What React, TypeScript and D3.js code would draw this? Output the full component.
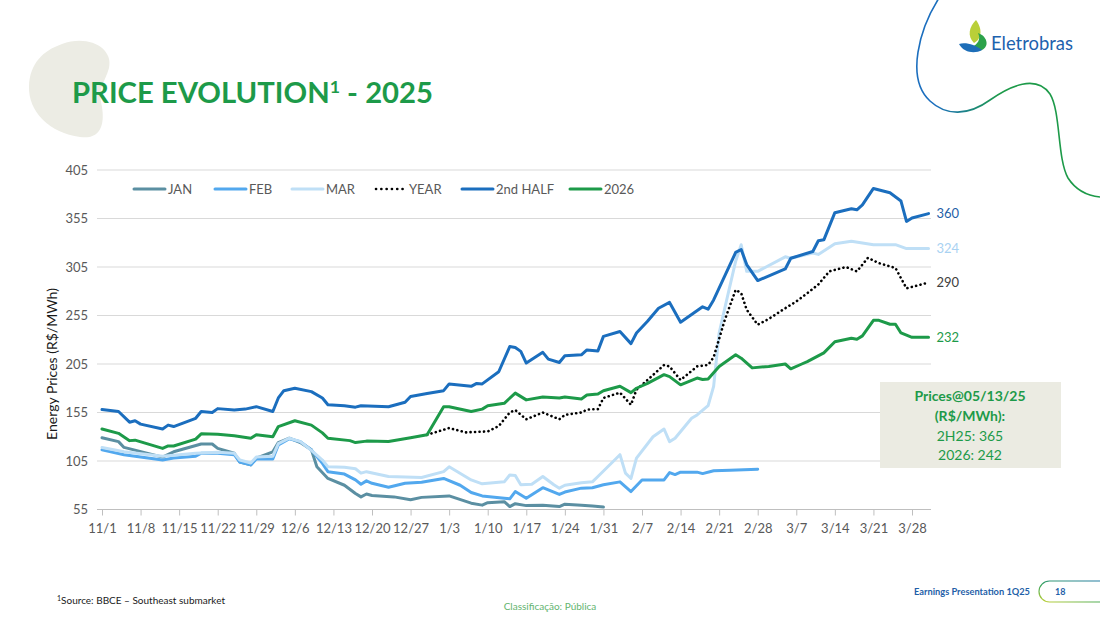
import React, { useRef, useEffect } from "react";
import * as d3 from "d3";

type Point = [string, number];

const yTickValues = [55, 105, 155, 205, 255, 305, 355, 405];
const xTickLabels = [
  "11/1", "11/8", "11/15", "11/22", "11/29", "12/6", "12/13", "12/20", "12/27", "1/3", "1/10",
  "1/17", "1/24", "1/31", "2/7", "2/14", "2/21", "2/28", "3/7", "3/14", "3/21", "3/28",
];

// values (R$/MWh)
const janPrices: Point[] = [
  ["11/1", 129], ["11/4", 125], ["11/5", 119], ["11/12", 109], ["11/14", 114.5], ["11/19", 122.5],
  ["11/21", 122.5], ["11/22", 118], ["11/25", 113], ["11/26", 104], ["11/28", 101], ["11/29", 108],
  ["12/2", 114.5], ["12/3", 124], ["12/5", 128.5], ["12/7", 124], ["12/9", 116.5], ["12/10", 99],
  ["12/12", 87], ["12/15", 80], ["12/17", 71.5], ["12/18", 68], ["12/19", 71], ["12/20", 69.5],
  ["12/24", 68], ["12/27", 65], ["12/29", 67.5], ["1/3", 69], ["1/7", 61.5], ["1/9", 59.5],
  ["1/10", 62], ["1/13", 63], ["1/14", 58], ["1/15", 61], ["1/17", 59], ["1/20", 59.5],
  ["1/23", 58], ["1/24", 60.5], ["1/27", 59.5], ["1/29", 58.5], ["1/31", 57.5],
];

const febPrices: Point[] = [
  ["11/1", 116.5], ["11/5", 111.5], ["11/12", 106], ["11/14", 108], ["11/18", 110], ["11/19", 113],
  ["11/22", 113], ["11/25", 111.5], ["11/26", 104], ["11/28", 101], ["11/29", 107], ["12/2", 107],
  ["12/3", 121.5], ["12/5", 128], ["12/7", 125], ["12/9", 116.5], ["12/11", 102.5], ["12/12", 94],
  ["12/15", 91.5], ["12/17", 85.5], ["12/18", 81], ["12/19", 84.5], ["12/20", 82], ["12/23", 78],
  ["12/26", 82], ["12/29", 83], ["1/2", 87], ["1/5", 80], ["1/7", 72.5], ["1/9", 69],
  ["1/13", 66.5], ["1/14", 66], ["1/15", 73.5], ["1/17", 66.5], ["1/20", 77.5], ["1/23", 70.5],
  ["1/24", 73], ["1/27", 77], ["1/29", 77.5], ["1/31", 80.5], ["2/3", 83.5], ["2/5", 73.5],
  ["2/7", 85.5], ["2/11", 85.5], ["2/12", 93], ["2/13", 91], ["2/14", 93.5], ["2/17", 93.5],
  ["2/18", 92], ["2/20", 95], ["2/23", 95.5], ["2/28", 96.5],
];

const marPrices: Point[] = [
  ["11/1", 119], ["11/5", 114.5], ["11/12", 110], ["11/18", 113], ["11/22", 114], ["11/25", 113],
  ["11/26", 106], ["11/28", 103], ["11/29", 109], ["12/2", 110], ["12/3", 123], ["12/5", 128.5],
  ["12/7", 125], ["12/9", 116], ["12/11", 106], ["12/12", 99], ["12/15", 98.5], ["12/17", 97],
  ["12/18", 92.5], ["12/19", 94], ["12/23", 89], ["12/29", 88], ["1/2", 94], ["1/3", 99],
  ["1/7", 85.5], ["1/9", 81.5], ["1/13", 83.5], ["1/14", 90.5], ["1/15", 90], ["1/16", 80.5],
  ["1/18", 81], ["1/20", 89], ["1/22", 80.5], ["1/23", 77], ["1/24", 80], ["1/27", 82.5],
  ["1/29", 83.5], ["1/30", 89], ["2/3", 111.5], ["2/4", 92.5], ["2/5", 87], ["2/6", 108],
  ["2/9", 130], ["2/11", 138], ["2/12", 125], ["2/13", 128.5], ["2/16", 149], ["2/17", 152.5],
  ["2/19", 162], ["2/20", 182], ["2/21", 237], ["2/22", 262], ["2/24", 311], ["2/25", 328],
  ["2/26", 300.5], ["2/28", 300.5], ["3/5", 315.5], ["3/6", 314], ["3/10", 319.5], ["3/11", 318],
  ["3/14", 329], ["3/17", 331.5], ["3/21", 328], ["3/25", 328], ["3/27", 324], ["3/31", 324],
];

const yearPrices: Point[] = [
  ["12/30", 132], ["1/3", 139], ["1/6", 134.5], ["1/10", 135.5], ["1/12", 141], ["1/14", 155],
  ["1/15", 157.5], ["1/17", 148], ["1/20", 155], ["1/23", 148], ["1/24", 152.5], ["1/27", 155],
  ["1/28", 158], ["1/30", 158.5], ["1/31", 170], ["2/3", 175.5], ["2/5", 163], ["2/6", 178.5],
  ["2/8", 188.5], ["2/11", 204], ["2/12", 202.5], ["2/14", 188.5], ["2/17", 202.5], ["2/19", 204],
  ["2/20", 212], ["2/22", 250], ["2/24", 281.5], ["2/25", 278], ["2/26", 261], ["2/28", 245.5],
  ["3/2", 251.5], ["3/5", 262.5], ["3/7", 269.5], ["3/9", 278], ["3/11", 287], ["3/13", 300.5],
  ["3/16", 305], ["3/18", 300.5], ["3/20", 314.5], ["3/22", 309], ["3/25", 304], ["3/27", 283],
  ["3/28", 284.5], ["3/31", 289],
];

const secondHalfPrices: Point[] = [
  ["11/1", 158], ["11/4", 156], ["11/6", 145], ["11/7", 146.5], ["11/8", 143], ["11/12", 138],
  ["11/13", 142], ["11/14", 140.5], ["11/18", 149], ["11/19", 156], ["11/21", 155], ["11/22", 159],
  ["11/25", 157.5], ["11/27", 158.5], ["11/29", 161], ["12/2", 156], ["12/3", 170], ["12/4", 177.5],
  ["12/6", 180], ["12/9", 176.5], ["12/11", 170], ["12/12", 163], ["12/15", 162], ["12/17", 160.5],
  ["12/18", 162], ["12/23", 161], ["12/26", 165.5], ["12/27", 171.5], ["12/30", 174.5], ["1/2", 177.5],
  ["1/3", 184.5], ["1/7", 182], ["1/8", 185], ["1/9", 184.5], ["1/12", 197], ["1/14", 223],
  ["1/15", 222], ["1/16", 218], ["1/17", 206], ["1/20", 217], ["1/21", 210], ["1/23", 206.5],
  ["1/24", 213.5], ["1/27", 214.5], ["1/28", 219.5], ["1/30", 218.5], ["1/31", 233.5], ["2/3", 238.5],
  ["2/5", 226], ["2/6", 237], ["2/8", 249], ["2/10", 262.5], ["2/12", 268.5], ["2/14", 248],
  ["2/18", 264], ["2/19", 261.5], ["2/20", 271], ["2/24", 320], ["2/25", 323], ["2/26", 307.5],
  ["2/28", 291], ["3/5", 303], ["3/6", 314], ["3/10", 321], ["3/11", 332], ["3/12", 333],
  ["3/14", 361], ["3/17", 365], ["3/18", 364], ["3/19", 369], ["3/21", 386], ["3/24", 381.5],
  ["3/26", 373], ["3/27", 352], ["3/28", 355.5], ["3/31", 360],
];

const prices2026: Point[] = [
  ["11/1", 138], ["11/4", 133.5], ["11/6", 126], ["11/7", 126.5], ["11/12", 118], ["11/13", 120.5],
  ["11/14", 120.5], ["11/18", 127.5], ["11/19", 133], ["11/22", 132.5], ["11/25", 131], ["11/28", 128.5],
  ["11/29", 132], ["12/2", 130], ["12/3", 140.5], ["12/6", 146.5], ["12/9", 142], ["12/11", 134],
  ["12/12", 128.5], ["12/16", 126], ["12/17", 124], ["12/19", 125.5], ["12/23", 125], ["12/27", 129],
  ["12/30", 132], ["1/2", 161], ["1/3", 161], ["1/7", 156], ["1/9", 158.5], ["1/10", 162],
  ["1/13", 164.5], ["1/15", 175], ["1/17", 168], ["1/20", 171], ["1/23", 170], ["1/24", 171],
  ["1/27", 169], ["1/28", 173], ["1/30", 174], ["1/31", 177.5], ["2/3", 182], ["2/5", 175.5],
  ["2/6", 180], ["2/8", 185], ["2/11", 194], ["2/12", 192], ["2/14", 183.5], ["2/17", 190.5],
  ["2/18", 189], ["2/19", 189.5], ["2/21", 202.5], ["2/24", 214.5], ["2/25", 211], ["2/27", 201],
  ["3/2", 202.5], ["3/5", 205], ["3/6", 200], ["3/8", 205], ["3/9", 207.5], ["3/12", 216.5],
  ["3/14", 228], ["3/17", 231.5], ["3/18", 230.5], ["3/19", 234], ["3/21", 250], ["3/22", 250],
  ["3/24", 246], ["3/25", 246], ["3/26", 237], ["3/28", 232.5], ["3/31", 232.5],
];

const seriesNames = ["JAN", "FEB", "MAR", "YEAR", "2nd HALF", "2026"];
const seriesData = [janPrices, febPrices, marPrices, yearPrices, secondHalfPrices, prices2026];
const seriesColors = ["#5B8FA2", "#52A8EE", "#BFDFF6", "#000000", "#1B6EBE", "#1D9A49"];

// labels at the right end of the lines
const endLabelSeries = ["2nd HALF", "MAR", "YEAR", "2026"];
const endLabelValues = [360, 324, 290, 232];
const endLabelColors = ["#1F5FA8", "#A9D2F2", "#404040", "#1D9A49"];

const boxLines = ["Prices@05/13/25", "(R$/MWh):", "2H25: 365", "2026: 242"];

const FONT = "Lato, 'Open Sans', sans-serif";

const parseDay = (s: string) => {
  const [m, d] = s.split("/").map(Number);
  return new Date(m >= 11 ? 2024 : 2025, m - 1, d);
};

const App: React.FC = () => {
  const svgRef = useRef<SVGSVGElement>(null);
  const width = 1100;
  const height = 619;

  useEffect(() => {
    if (!svgRef.current) return;
    const svg = d3.select(svgRef.current);
    svg.selectAll("*").remove();

    const plot = { left: 102, right: 912, top: 170, bottom: 509.5 };

    const x = d3
      .scaleTime()
      .domain([parseDay("11/1"), parseDay("3/28")])
      .range([plot.left, plot.right]);
    const y = d3.scaleLinear().domain([55, 405]).range([plot.bottom, plot.top]);

    const defs = svg.append("defs");
    const curveGrad = defs
      .append("linearGradient")
      .attr("id", "curveGrad")
      .attr("gradientUnits", "userSpaceOnUse")
      .attr("x1", 935).attr("y1", 0).attr("x2", 1000).attr("y2", 0);
    curveGrad.append("stop").attr("offset", "0").attr("stop-color", "#1B6EBE");
    curveGrad.append("stop").attr("offset", "1").attr("stop-color", "#1D9A49");

    const pillGrad = defs
      .append("linearGradient")
      .attr("id", "pillGrad")
      .attr("x1", "0").attr("y1", "1").attr("x2", "1").attr("y2", "0");
    pillGrad.append("stop").attr("offset", "0").attr("stop-color", "#C8D43A");
    pillGrad.append("stop").attr("offset", "0.4").attr("stop-color", "#3AA55A");
    pillGrad.append("stop").attr("offset", "1").attr("stop-color", "#1B6EBE");

    svg.append("rect").attr("width", width).attr("height", height).attr("fill", "#ffffff");

    // beige blob behind the title
    svg
      .append("path")
      .attr(
        "d",
        "M62,44 C88,34 114,48 109,68 C105,82 98,88 101,102 C106,124 101,140 80,137 C50,133 28,112 29,86 C30,64 42,51 62,44 Z"
      )
      .attr("fill", "#ECECE4");

    svg
      .append("text")
      .attr("x", 72)
      .attr("y", 103)
      .attr("font-family", FONT)
      .attr("font-weight", 700)
      .attr("font-size", 28)
      .attr("fill", "#1D9A49")
      .attr("textLength", 361)
      .attr("lengthAdjust", "spacingAndGlyphs")
      .call((t) => {
        t.append("tspan").text("PRICE EVOLUTION");
        t.append("tspan").attr("font-size", 17).attr("dy", -10).text("1");
        t.append("tspan").attr("dy", 10).text(" - 2025");
      });

    // decorative curve + logo
    svg
      .append("path")
      .attr(
        "d",
        "M939,-2 C920,28 905,78 930,101 C946,116 968,116 990,100 C1010,86 1036,74 1050,94 C1061,112 1057,158 1068,178 C1077,192 1090,196 1100,197"
      )
      .attr("fill", "none")
      .attr("stroke", "url(#curveGrad)")
      .attr("stroke-width", 1.6);

    svg
      .append("path")
      .attr("d", "M976,20 C969,27 967,36 974,43 C980,40 984,31 976,20 Z")
      .attr("fill", "#B9CF38");
    svg
      .append("path")
      .attr("d", "M978,33 C987,36 990,46 982,50 C978,52 974,50 972,47 C978,44 981,39 978,33 Z")
      .attr("fill", "#2CA24A");
    svg
      .append("path")
      .attr("d", "M959,44 C966,42 975,45 982,50 C975,54 964,53 959,44 Z")
      .attr("fill", "#1D6EB8");
    svg
      .append("text")
      .attr("x", 991)
      .attr("y", 50)
      .attr("font-family", FONT)
      .attr("font-size", 19)
      .attr("fill", "#1D62AE")
      .attr("textLength", 82)
      .attr("lengthAdjust", "spacingAndGlyphs")
      .text("Eletrobras");

    // gridlines
    svg
      .append("g")
      .selectAll("line")
      .data(yTickValues.slice(1))
      .enter()
      .append("line")
      .attr("x1", 97)
      .attr("x2", 931)
      .attr("y1", (d) => y(d))
      .attr("y2", (d) => y(d))
      .attr("stroke", "#D9D9D9")
      .attr("stroke-width", 1);

    // x axis
    const xTickDates = xTickLabels.map(parseDay);
    const xAxis = svg
      .append("g")
      .attr("transform", `translate(0,${plot.bottom})`)
      .call(
        d3
          .axisBottom(x)
          .tickValues(xTickDates)
          .tickFormat((d, i) => xTickLabels[i])
          .tickSize(6)
          .tickPadding(8)
      );
    xAxis.select(".domain").attr("d", "M97,0H931").attr("stroke", "#BFBFBF");
    xAxis.selectAll(".tick line").attr("stroke", "#BFBFBF");
    xAxis
      .selectAll(".tick text")
      .attr("font-family", FONT)
      .attr("font-size", 13)
      .attr("fill", "#595959");

    // y axis labels
    const yAxis = svg
      .append("g")
      .attr("transform", "translate(90,0)")
      .call(d3.axisLeft(y).tickValues(yTickValues).tickSize(0).tickPadding(2));
    yAxis.select(".domain").remove();
    yAxis
      .selectAll(".tick text")
      .attr("font-family", FONT)
      .attr("font-size", 13)
      .attr("fill", "#595959");

    svg
      .append("text")
      .attr("transform", "translate(57,364) rotate(-90)")
      .attr("text-anchor", "middle")
      .attr("font-family", FONT)
      .attr("font-size", 14)
      .attr("fill", "#1a1a1a")
      .text("Energy Prices (R$/MWh)");

    // series lines
    const line = d3
      .line<Point>()
      .x((d) => x(parseDay(d[0])))
      .y((d) => y(d[1]));

    seriesData.forEach((data, i) => {
      const name = seriesNames[i];
      const p = svg
        .append("path")
        .datum(data)
        .attr("d", line)
        .attr("fill", "none")
        .attr("stroke", seriesColors[i])
        .attr("stroke-linejoin", "round");
      if (name === "YEAR") {
        p.attr("stroke-width", 2.6).attr("stroke-dasharray", "0.1 4.4").attr("stroke-linecap", "round");
      } else {
        p.attr("stroke-width", 3).attr("stroke-linecap", "round");
      }
    });

    // end labels
    endLabelSeries.forEach((name, i) => {
      const data = seriesData[seriesNames.indexOf(name)];
      const last = data[data.length - 1];
      svg
        .append("text")
        .attr("x", x(parseDay(last[0])) + 8)
        .attr("y", y(last[1]))
        .attr("dy", "0.35em")
        .attr("font-family", FONT)
        .attr("font-size", 13)
        .attr("fill", endLabelColors[i])
        .text(String(endLabelValues[i]));
    });

    // legend
    const legendX = [134, 215, 292, 374, 462, 570];
    const legendY = 189;
    const legend = svg.append("g");
    seriesNames.forEach((name, i) => {
      const g = legend.append("g").attr("transform", `translate(${legendX[i]},${legendY})`);
      const sw = g
        .append("line")
        .attr("x1", 0)
        .attr("x2", 31)
        .attr("y1", 0)
        .attr("y2", 0)
        .attr("stroke", seriesColors[i])
        .attr("stroke-linecap", "round");
      if (name === "YEAR") {
        sw.attr("stroke-width", 2.6).attr("stroke-dasharray", "0.1 5.2").attr("x1", 2).attr("x2", 30);
      } else {
        sw.attr("stroke-width", 3);
      }
      g.append("text")
        .attr("x", name === "YEAR" ? 35 : 34)
        .attr("y", 0)
        .attr("dy", "0.35em")
        .attr("font-family", FONT)
        .attr("font-size", 13)
        .attr("fill", "#595959")
        .text(name);
    });

    // price box
    svg
      .append("rect")
      .attr("x", 880)
      .attr("y", 382)
      .attr("width", 181)
      .attr("height", 86)
      .attr("fill", "#EBEBE2");
    boxLines.forEach((t, i) => {
      svg
        .append("text")
        .attr("x", 970)
        .attr("y", 401 + i * 19.8)
        .attr("text-anchor", "middle")
        .attr("font-family", FONT)
        .attr("font-size", 14)
        .attr("font-weight", i < 2 ? 700 : 400)
        .attr("fill", "#1D9A49")
        .text(t);
    });

    // footer
    svg
      .append("text")
      .attr("x", 57)
      .attr("y", 604)
      .attr("font-family", FONT)
      .attr("font-size", 10)
      .attr("fill", "#1a1a1a")
      .call((t) => {
        t.append("tspan").attr("font-size", 7).attr("dy", -3).text("1");
        t.append("tspan").attr("dy", 3).text("Source: BBCE – Southeast submarket");
      });

    svg
      .append("text")
      .attr("x", 550)
      .attr("y", 610)
      .attr("text-anchor", "middle")
      .attr("font-family", FONT)
      .attr("font-size", 10)
      .attr("fill", "#63B46F")
      .text("Classificação: Pública");

    svg
      .append("text")
      .attr("x", 914)
      .attr("y", 595)
      .attr("font-family", FONT)
      .attr("font-size", 9)
      .attr("font-weight", 700)
      .attr("fill", "#1F5FA8")
      .attr("textLength", 116)
      .attr("lengthAdjust", "spacingAndGlyphs")
      .text("Earnings Presentation 1Q25");

    svg
      .append("rect")
      .attr("x", 1039)
      .attr("y", 581)
      .attr("width", 90)
      .attr("height", 21)
      .attr("rx", 10.5)
      .attr("fill", "none")
      .attr("stroke", "url(#pillGrad)")
      .attr("stroke-width", 1.2);
    svg
      .append("text")
      .attr("x", 1055)
      .attr("y", 595)
      .attr("font-family", FONT)
      .attr("font-size", 9)
      .attr("font-weight", 700)
      .attr("fill", "#1F5FA8")
      .text("18");
  }, []);

  return (
    <svg
      ref={svgRef}
      width={width}
      height={height}
      style={{ position: "absolute", left: 0, top: 0, display: "block" }}
    ></svg>
  );
};

export default App;
